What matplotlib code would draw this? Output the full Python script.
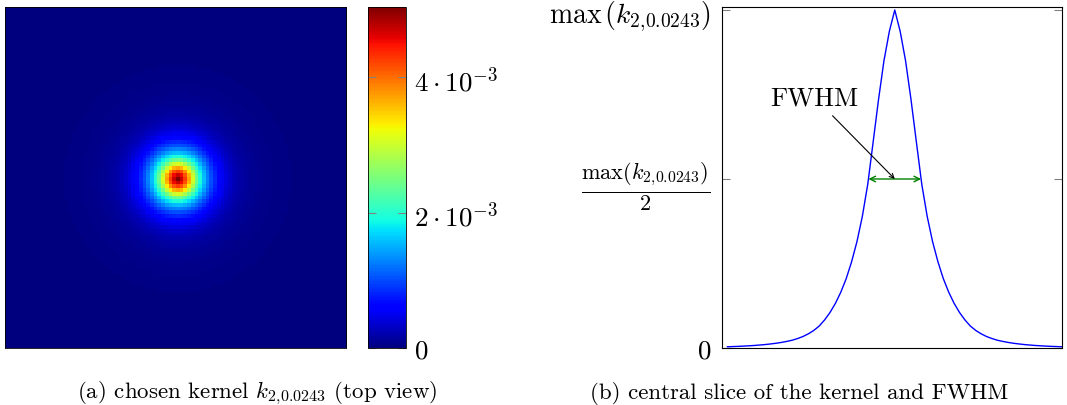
"""Kernel top view and its central slice with FWHM marker."""
import matplotlib

matplotlib.use("Agg")
import matplotlib.pyplot as plt
import numpy as np

plt.rcParams["font.family"] = "serif"
plt.rcParams["font.serif"] = ["cmr10"]
plt.rcParams["mathtext.fontset"] = "cm"
plt.rcParams["axes.formatter.use_mathtext"] = True

# kernel peak value
kernel_max = 5.04e-3

# central slice of the kernel, normalised to the peak (63 samples, peak at index 31)
slice_profile = [
    0.0036, 0.0042, 0.0048, 0.0056, 0.0065, 0.0075, 0.0088, 0.0102, 0.012, 0.014,
    0.0165, 0.0195, 0.023, 0.028, 0.034, 0.042, 0.052, 0.065, 0.083, 0.105,
    0.132, 0.165, 0.205, 0.255, 0.315, 0.39, 0.485, 0.61, 0.736, 0.85,
    0.937, 1.0,
    0.937, 0.85, 0.736, 0.61, 0.485, 0.39, 0.315, 0.255, 0.205, 0.165,
    0.132, 0.105, 0.083, 0.065, 0.052, 0.042, 0.034, 0.028, 0.023, 0.0195,
    0.0165, 0.014, 0.012, 0.0102, 0.0088, 0.0075, 0.0065, 0.0056, 0.0048, 0.0042,
    0.0036,
]
image_size = 92  # the top view shows a wider window of the same kernel

cbar_ticks = [0, 2e-3, 4e-3]
cbar_labels = [r"$0$", r"$2\cdot10^{-3}$", r"$4\cdot10^{-3}$"]
kernel_name = r"k_{2{,}0.0243}"
caption_a = r"(a) chosen kernel $" + kernel_name + r"$ (top view)"
caption_b = "(b) central slice of the kernel and FWHM"

slice_vals = np.array(slice_profile) * kernel_max
n_slice = len(slice_vals)
slice_x = np.arange(1, n_slice + 1)
centre = int(np.argmax(slice_vals))

# top view: rotate the half profile around the centre
half = slice_vals[centre:]
idx = np.arange(image_size) - image_size // 2
rr = np.hypot(*np.meshgrid(idx, idx))
kernel = np.interp(rr, np.arange(len(half)), half)

fig = plt.figure(figsize=(10.67, 4.06), dpi=100)

ax_img = fig.add_axes([0.0047, 0.1404, 0.3196, 0.84])
im = ax_img.imshow(kernel, cmap="jet", vmin=0, vmax=kernel_max,
                   interpolation="nearest", aspect="auto")
ax_img.set_xticks([])
ax_img.set_yticks([])
for sp in ax_img.spines.values():
    sp.set_linewidth(0.6)

ax_cb = fig.add_axes([0.3449, 0.1404, 0.0356, 0.84])
cb = fig.colorbar(im, cax=ax_cb)
cb.set_ticks(cbar_ticks)
cb.set_ticklabels(cbar_labels)
cb.outline.set_linewidth(0.6)
ax_cb.tick_params(direction="in", length=6, width=0.8, color="grey",
                  left=True, right=True, labelsize=19.5, pad=6)

ax = fig.add_axes([0.6767, 0.1404, 0.3187, 0.84])
ax.plot(slice_x, slice_vals, color="blue", lw=1.0)
ax.set_xlim(0, n_slice)
ax.set_ylim(0, kernel_max * 1.009)
ax.set_xticks([])
ax.set_yticks([0, kernel_max / 2, kernel_max])
ax.set_yticklabels([r"$0$", r"$\frac{\max(" + kernel_name + r")}{2}$",
                    r"$\max\,(" + kernel_name + r")$"])
ax.tick_params(axis="y", direction="in", length=6, width=0.8, color="grey",
               left=True, right=True, pad=8)
for lab, size in zip(ax.get_yticklabels(), [19.5, 23, 20]):
    lab.set_fontsize(size)
for sp in ax.spines.values():
    sp.set_linewidth(0.8)

# FWHM: half-maximum crossings of the slice
half_max = kernel_max / 2
left_x = np.interp(half_max, slice_vals[:centre + 1], slice_x[:centre + 1])
right_x = np.interp(-half_max, -slice_vals[centre:], slice_x[centre:])
ax.annotate("", xy=(left_x, half_max), xytext=(right_x, half_max),
            arrowprops=dict(arrowstyle="<->", color="green", lw=1.0,
                            shrinkA=0, shrinkB=0, mutation_scale=10))
ax.annotate("", xy=(slice_x[centre], half_max), xytext=(0.325, 0.681),
            textcoords="axes fraction",
            arrowprops=dict(arrowstyle="->", color="black", lw=0.8,
                            shrinkA=0, shrinkB=0, mutation_scale=8))
ax.text(0.27, 0.733, "FWHM", transform=ax.transAxes, fontsize=19,
        ha="center", va="center")

fig.text(0.241, 0.032, caption_a, ha="center", va="center", fontsize=16.5)
fig.text(0.749, 0.032, caption_b, ha="center", va="center", fontsize=16.5)

fig.savefig("out.png", dpi=100)
